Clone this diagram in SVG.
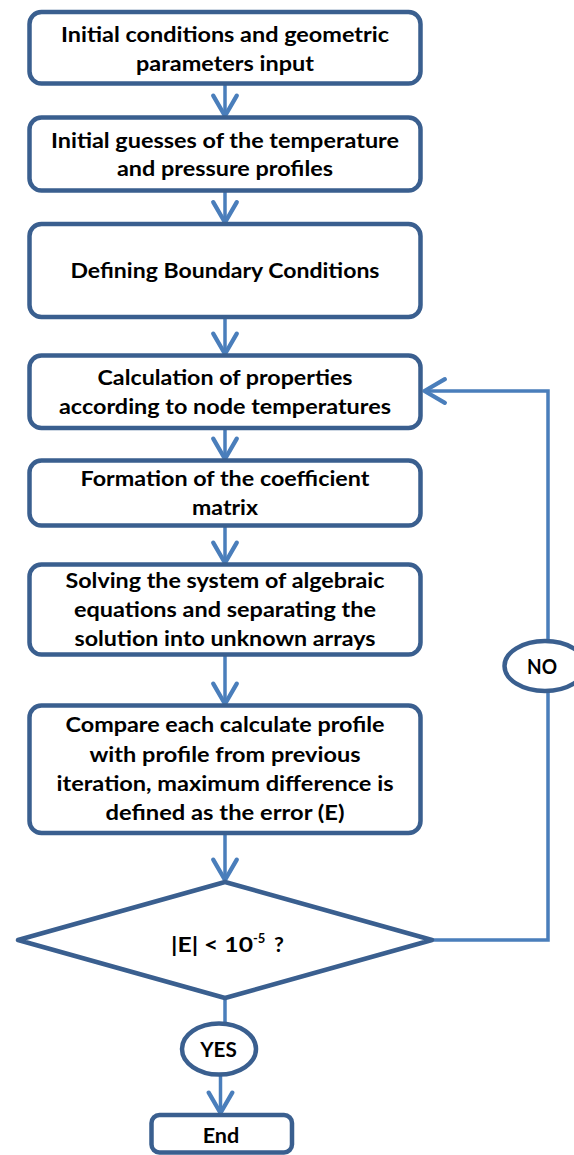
<svg xmlns="http://www.w3.org/2000/svg" width="574" height="1155" viewBox="0 0 574 1155">
<style>
.box{fill:#fff;stroke:#3A5F8F;stroke-width:4.5}
.dia{fill:#fff;stroke:#3A5F8F;stroke-width:4.5;stroke-linejoin:round}
.con{fill:none;stroke:#4A7EBB;stroke-width:3.5}
.t{font-family:Lato,"Open Sans","Liberation Sans",sans-serif;font-weight:bold;font-size:21.5px;fill:#000;text-anchor:middle}
</style>
<defs>
<marker id="arr" markerUnits="userSpaceOnUse" markerWidth="30" markerHeight="30" viewBox="-22 -14 26 28" refX="0" refY="0" orient="auto">
<path d="M-19,-11 L0,0 L-19,11" fill="none" stroke="#4A7EBB" stroke-width="4" stroke-linecap="round" stroke-linejoin="round"/>
</marker>
</defs>
<g id="connectors">
<line class="con" x1="225" y1="83.5" x2="225" y2="116" marker-end="url(#arr)"/>
<line class="con" x1="225" y1="190.5" x2="225" y2="222.5" marker-end="url(#arr)"/>
<line class="con" x1="225" y1="317" x2="225" y2="354" marker-end="url(#arr)"/>
<line class="con" x1="225" y1="428" x2="225" y2="459" marker-end="url(#arr)"/>
<line class="con" x1="225" y1="525.5" x2="225" y2="563" marker-end="url(#arr)"/>
<line class="con" x1="225" y1="654.5" x2="225" y2="704" marker-end="url(#arr)"/>
<line class="con" x1="225" y1="833" x2="225" y2="880" marker-end="url(#arr)"/>
<line class="con" x1="225" y1="998" x2="225" y2="1024"/>
<line class="con" x1="220.5" y1="1074.5" x2="220.5" y2="1113" marker-end="url(#arr)"/>
<polyline class="con" points="432,940 548,940 548,391 424.5,391" marker-end="url(#arr)"/>
</g>
<g id="n1"><rect class="box" x="29.5" y="12" width="391" height="71.5" rx="12"/>
<text class="t" x="225" y="42.3" textLength="328" lengthAdjust="spacingAndGlyphs">Initial conditions and geometric</text>
<text class="t" x="225" y="71" textLength="178" lengthAdjust="spacingAndGlyphs">parameters input</text></g>
<g id="n2"><rect class="box" x="29.5" y="117.5" width="391" height="73" rx="12"/>
<text class="t" x="225" y="147.7" textLength="348" lengthAdjust="spacingAndGlyphs">Initial guesses of the temperature</text>
<text class="t" x="225" y="176" textLength="216" lengthAdjust="spacingAndGlyphs">and pressure profiles</text></g>
<g id="n3"><rect class="box" x="29.5" y="224" width="391" height="93" rx="12"/>
<text class="t" x="225" y="278.3" textLength="309" lengthAdjust="spacingAndGlyphs">Defining Boundary Conditions</text></g>
<g id="n4"><rect class="box" x="29.5" y="355.5" width="391" height="72.5" rx="12"/>
<text class="t" x="225" y="385" textLength="255" lengthAdjust="spacingAndGlyphs">Calculation of properties</text>
<text class="t" x="225" y="414" textLength="332" lengthAdjust="spacingAndGlyphs">according to node temperatures</text></g>
<g id="n5"><rect class="box" x="29.5" y="460.5" width="391" height="65" rx="12"/>
<text class="t" x="225" y="485.7" textLength="289" lengthAdjust="spacingAndGlyphs">Formation of the coefficient</text>
<text class="t" x="225" y="515" textLength="66" lengthAdjust="spacingAndGlyphs">matrix</text></g>
<g id="n6"><rect class="box" x="29.5" y="564.5" width="391" height="90" rx="12"/>
<text class="t" x="225" y="588.3" textLength="319" lengthAdjust="spacingAndGlyphs">Solving the system of algebraic</text>
<text class="t" x="225" y="617" textLength="302" lengthAdjust="spacingAndGlyphs">equations and separating the</text>
<text class="t" x="225" y="646" textLength="301" lengthAdjust="spacingAndGlyphs">solution into unknown arrays</text></g>
<g id="n7"><rect class="box" x="29.5" y="705.5" width="391" height="127.5" rx="12"/>
<text class="t" x="225" y="732.3" textLength="319" lengthAdjust="spacingAndGlyphs">Compare each calculate profile</text>
<text class="t" x="225" y="761.5" textLength="271" lengthAdjust="spacingAndGlyphs">with profile from previous</text>
<text class="t" x="225" y="790.7" textLength="337" lengthAdjust="spacingAndGlyphs">iteration, maximum difference is</text>
<text class="t" x="225" y="820" textLength="239" lengthAdjust="spacingAndGlyphs">defined as the error (E)</text></g>
<g id="decision"><polygon class="dia" points="225,882 432,940 225,998 18,940"/>
<text class="t" x="171" y="951.7" style="text-anchor:start" textLength="82" lengthAdjust="spacingAndGlyphs">|E| &lt; 10</text>
<text class="t" x="253" y="943" style="text-anchor:start;font-size:13px">-5</text>
<text class="t" x="274" y="951.7" style="text-anchor:start">?</text></g>
<g id="no"><ellipse class="box" cx="545" cy="666" rx="40.5" ry="25"/>
<text class="t" x="542" y="674.3" textLength="30" lengthAdjust="spacingAndGlyphs">NO</text></g>
<g id="yes"><ellipse class="box" cx="219" cy="1049" rx="37" ry="25.5"/>
<text class="t" x="218.5" y="1057.3" textLength="36.6" lengthAdjust="spacingAndGlyphs">YES</text></g>
<g id="end"><rect class="box" x="151.5" y="1115" width="140.5" height="37.5" rx="8"/>
<text class="t" x="221" y="1142.7" textLength="36.6" lengthAdjust="spacingAndGlyphs">End</text></g>
</svg>
